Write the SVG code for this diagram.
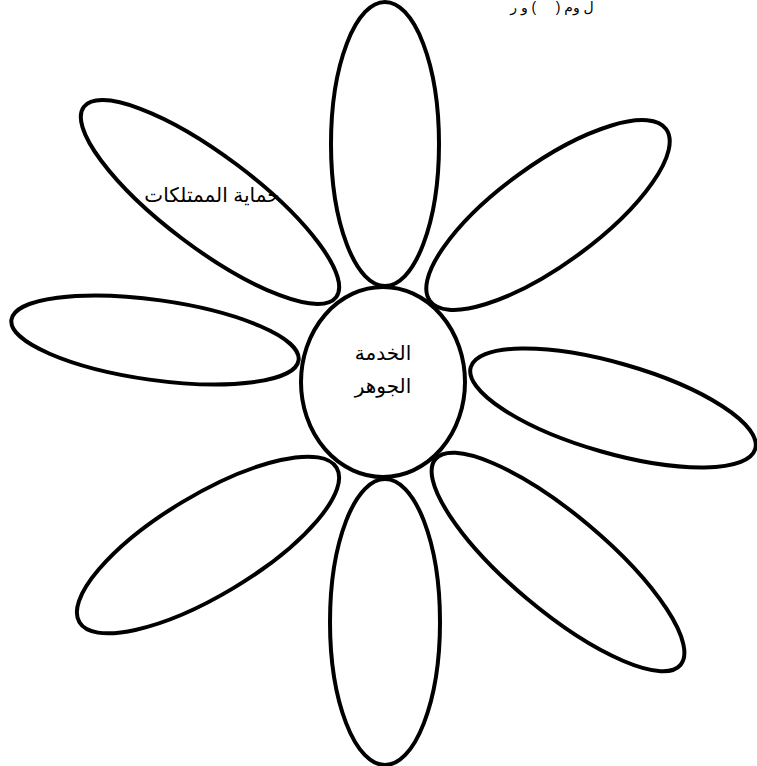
<svg xmlns="http://www.w3.org/2000/svg" width="757" height="766" viewBox="0 0 757 766">
<style>
.p{fill:#fff;stroke:#000;stroke-width:4}
.t{font-family:"Liberation Sans","DejaVu Sans",sans-serif;font-size:20px;fill:#000;text-anchor:middle}
.s{font-family:"Liberation Sans","DejaVu Sans",sans-serif;font-size:14px;fill:#000;text-anchor:middle;white-space:pre}
</style>
<rect width="757" height="766" fill="#fff"/>
<text class="s" x="552" y="12" direction="rtl" xml:space="preserve">ل وم (     ) و ر</text>
<g id="petal-top"><ellipse class="p" cx="385" cy="144" rx="54" ry="142"/></g>
<g id="petal-bottom"><ellipse class="p" cx="385" cy="622" rx="55" ry="143"/></g>
<g id="petal-left"><ellipse class="p" cx="155" cy="340" rx="145" ry="40" transform="rotate(8 155 340)"/></g>
<g id="petal-right"><ellipse class="p" cx="613" cy="408" rx="148" ry="45" transform="rotate(16 613 408)"/></g>
<g id="petal-upper-left"><ellipse class="p" cx="210" cy="202" rx="158" ry="46" transform="rotate(37 210 202)"/>
<text class="t" x="212" y="202" direction="rtl">حماية الممتلكات</text></g>
<g id="petal-upper-right"><ellipse class="p" cx="548" cy="215" rx="146" ry="50" transform="rotate(-36 548 215)"/></g>
<g id="petal-lower-left"><ellipse class="p" cx="208" cy="545" rx="150" ry="50" transform="rotate(-31 208 545)"/></g>
<g id="petal-lower-right"><ellipse class="p" cx="558" cy="562" rx="160" ry="48" transform="rotate(40 558 562)"/></g>
<g id="center"><ellipse class="p" cx="383" cy="382" rx="82" ry="95"/>
<text class="t" x="383" y="360" direction="rtl">الخدمة</text>
<text class="t" x="383" y="393" direction="rtl">الجوهر</text></g>
<g id="connectors"/>
</svg>
